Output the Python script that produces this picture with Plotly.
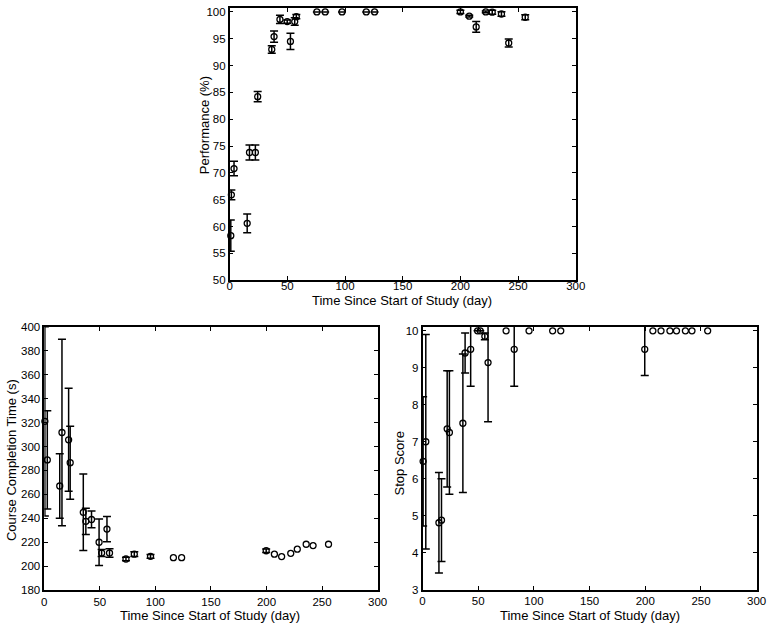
import plotly.graph_objects as go

# ---------------- data ----------------
# Top: Performance (%)
perf_day = [1, 1.5, 3.8, 15.2, 17.2, 22.3, 24.3, 36.5, 38.5, 43.6, 49.9, 52.7, 56.4, 57.8,
            75.6, 82.8, 97.4, 118.4, 125.6, 200, 207.7, 213.7, 222, 227.6, 235.6, 241.9, 256.2]
perf_val = [58.3, 65.9, 70.8, 60.6, 73.8, 73.8, 84.2, 93.0, 95.4, 98.6, 98.2, 94.5, 98.2, 99.1,
            100, 100, 100, 100, 100, 100, 99.2, 97.2, 100, 99.95, 99.6, 94.2, 99.0]
perf_err = [2.9, 0.9, 1.35, 1.75, 1.4, 1.4, 0.95, 0.7, 1.05, 0.75, 0.3, 1.5, 0.7, 0.4,
            0, 0, 0, 0, 0, 0.3, 0.15, 1.0, 0.15, 0.37, 0.43, 0.75, 0.45]

# Bottom-left: Course Completion Time (s)
cct_day = [0.5, 2.7, 13.9, 15.9, 21.9, 23.3, 35.1, 37.4, 42.5, 49.3, 51.6, 56.4, 58.7,
           73.5, 81.0, 95.6, 116.2, 123.6, 199.7, 207.1, 213.6, 221.8, 227.7, 235.7, 241.9, 255.8]
cct_val = [321, 288.8, 267, 311.7, 305.6, 286.5, 245, 237.5, 239, 220, 211, 231, 211,
           206, 210, 208.2, 207.1, 207.1, 212.9, 210, 208, 210.7, 214.2, 218.3, 217.2, 218.3]
cct_err = [79, 41, 27, 78, 43, 30.5, 32, 11, 7, 19.5, 3, 10.5, 3.5,
           1.5, 2, 1.5, None, None, 1.5, None, None, None, None, None, None, None]

# Bottom-right: Stop Score
stop_day = [0.5, 2.9, 14.7, 17.0, 22.1, 24.1, 36.2, 38.2, 43.2, 49.4, 51.8, 55.9, 58.8,
            75, 82.3, 95.6, 116.8, 124.1, 199.5, 206.8, 214.1, 222.1, 228, 236, 241.9, 256]
stop_val = [6.47, 7.0, 4.81, 4.88, 7.35, 7.25, 7.5, 9.4, 9.5, 10, 10, 9.85, 9.14,
            10, 9.5, 10, 10, 10, 9.5, 10, 10, 10, 10, 10, 10, 10]
stop_err = [1.75, 2.9, 1.36, 1.12, 1.57, 1.67, 1.87, 0.54, 1.0, 0, 0, 0.09, 1.6,
            None, 1.0, None, None, None, 0.71, None, None, None, None, None, None, None]

x_ticks = [0, 50, 100, 150, 200, 250, 300]
perf_ticks = [50, 55, 60, 65, 70, 75, 80, 85, 90, 95, 100]
cct_ticks = [180, 200, 220, 240, 260, 280, 300, 320, 340, 360, 380, 400]
stop_ticks = [3, 4, 5, 6, 7, 8, 9, 10]

x_title = "Time Since Start of Study (day)"

# ---------------- figure ----------------
W, H = 777, 633


def px(x):
    return x / W


def py(y):
    return 1 - y / H


FONT = "Arial, Liberation Sans, Helvetica, sans-serif"
fig = go.Figure()


def add_series(days, vals, errs, xa, ya):
    ed = [d for d, e in zip(days, errs) if e is not None]
    ev = [v for v, e in zip(vals, errs) if e is not None]
    ee = [e for e in errs if e is not None]
    fig.add_trace(go.Scatter(
        x=ed, y=ev, mode="markers", xaxis=xa, yaxis=ya,
        marker=dict(size=6, opacity=0, color="black"),
        error_y=dict(type="data", array=ee, visible=True, color="black",
                     thickness=1.5, width=4),
        cliponaxis=True, hoverinfo="skip", showlegend=False))
    fig.add_trace(go.Scatter(
        x=days, y=vals, mode="markers", xaxis=xa, yaxis=ya,
        marker=dict(symbol="circle-open", size=6, color="black",
                    line=dict(width=1.3, color="black")),
        cliponaxis=False, showlegend=False))


add_series(perf_day, perf_val, perf_err, "x", "y")
add_series(cct_day, cct_val, cct_err, "x2", "y2")
add_series(stop_day, stop_val, stop_err, "x3", "y3")

common = dict(ticks="inside", ticklen=4, tickwidth=1, tickcolor="black",
              mirror="ticks", showline=True, linecolor="black", linewidth=1.5,
              showgrid=False, zeroline=False,
              tickfont=dict(family=FONT, size=11.5, color="black"))

fig.update_layout(
    width=W, height=H,
    margin=dict(l=0, r=0, t=0, b=0),
    paper_bgcolor="white", plot_bgcolor="white",
    showlegend=False,
    xaxis=dict(domain=[px(230.5), px(582.5)], range=[0, 300], anchor="y",
               tickvals=x_ticks, ticklabelstandoff=-6, **common),
    yaxis=dict(domain=[py(279.5), py(2)], range=[50, 100.73], anchor="x",
               tickvals=perf_ticks, **common),
    xaxis2=dict(domain=[px(42), px(381)], range=[0, 300], anchor="y2",
                tickvals=x_ticks, **common),
    yaxis2=dict(domain=[py(595.4), py(327)], range=[180, 400], anchor="x2",
                tickvals=cct_ticks, **common),
    xaxis3=dict(domain=[px(426.7), px(766.5)], range=[0, 300], anchor="y3",
                tickvals=x_ticks, **common),
    yaxis3=dict(domain=[py(595), py(327.3)], range=[3, 10.1], anchor="x3",
                tickvals=stop_ticks, **common),
)

tfont = dict(family=FONT, size=13, color="black")
annots = [
    ("Performance (%)", 205, 122, -90),
    (x_title, 406, 300, 0),
    ("Course Completion Time (s)", 8, 463, -90),
    (x_title, 211, 621, 0),
    ("Stop Score", 403, 466, -90),
    (x_title, 597, 621, 0),
]
for text, ax, ay, ang in annots:
    fig.add_annotation(text=text, x=px(ax), y=py(ay), xref="paper", yref="paper",
                       showarrow=False, textangle=ang, font=tfont,
                       xanchor="center", yanchor="middle")

fig.write_html(
    "out.html",
    config={"displayModeBar": False},
    post_script="document.body.style.margin='0';document.body.style.padding='0';"
                "document.body.style.overflow='hidden';",
)
